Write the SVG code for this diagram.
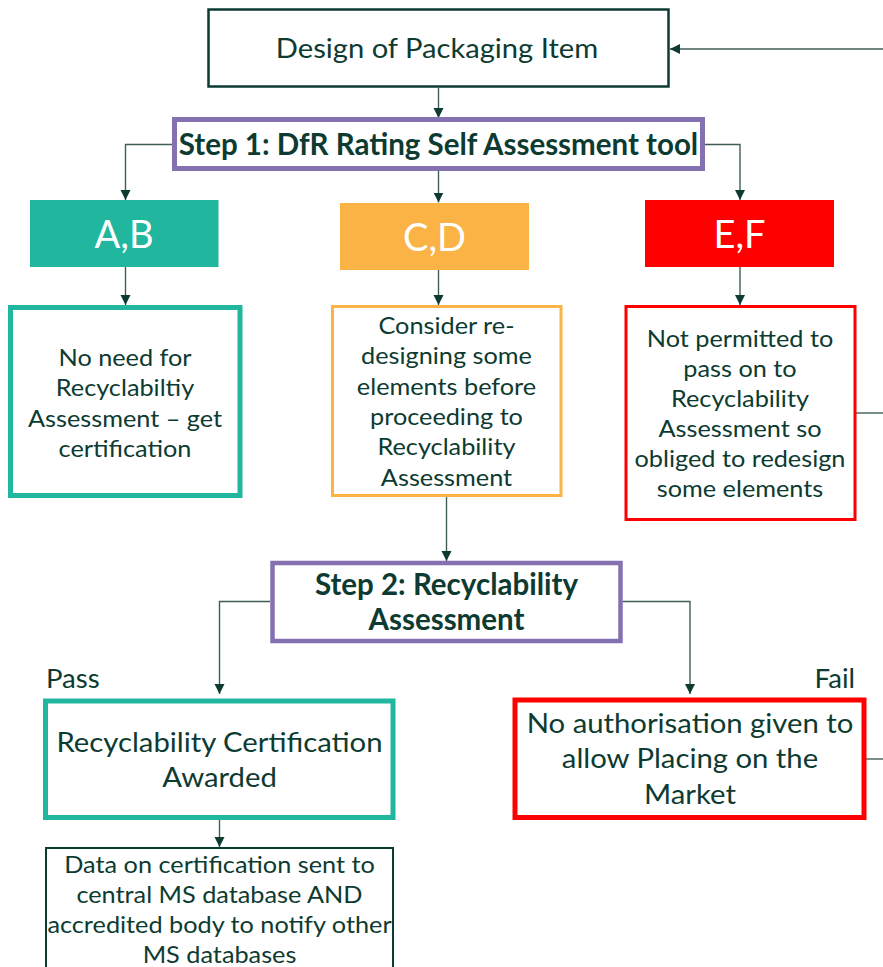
<svg xmlns="http://www.w3.org/2000/svg" width="883" height="967" viewBox="0 0 883 967">
<defs>
<style>
text{font-family:Lato,"Liberation Sans",sans-serif;fill:#0d3b31;text-anchor:middle}
.t{font-size:23.4px}
.l{font-size:27.5px}
.b{font-weight:bold;font-size:29.5px}
.big{font-size:38px;fill:#ffffff}
.c{fill:none;stroke:#3f5e57;stroke-width:1.4}
</style>
<marker id="ah" viewBox="0 0 10 10" refX="10" refY="5" markerWidth="10" markerHeight="12" markerUnits="userSpaceOnUse" orient="auto">
<path d="M0,0 L10,5 L0,10 z" fill="#0d3b31"/>
</marker>
</defs>
<rect width="883" height="967" fill="#ffffff"/>
<g id="connectors">
<path class="c" d="M883,49 L670,49" marker-end="url(#ah)"/>
<path class="c" d="M438.5,88 L438.5,118" marker-end="url(#ah)"/>
<path class="c" d="M172,144.5 L125.5,144.5 L125.5,200" marker-end="url(#ah)"/>
<path class="c" d="M438.5,171 L438.5,202.5" marker-end="url(#ah)"/>
<path class="c" d="M705,144.5 L740,144.5 L740,200" marker-end="url(#ah)"/>
<path class="c" d="M125.5,267 L125.5,305" marker-end="url(#ah)"/>
<path class="c" d="M438.5,270 L438.5,305" marker-end="url(#ah)"/>
<path class="c" d="M740,267 L740,305" marker-end="url(#ah)"/>
<path class="c" d="M856,413 L883,413"/>
<path class="c" d="M446.5,497 L446.5,561" marker-end="url(#ah)"/>
<path class="c" d="M270,601.5 L219.5,601.5 L219.5,694" marker-end="url(#ah)"/>
<path class="c" d="M622.5,601.5 L690,601.5 L690,694" marker-end="url(#ah)"/>
<path class="c" d="M866,759 L883,759"/>
<path class="c" d="M219.5,820 L219.5,847" marker-end="url(#ah)"/>
</g>
<g id="design">
<rect x="208.5" y="9.5" width="460" height="77" fill="#fff" stroke="#0d3b31" stroke-width="2.5"/>
<g transform="translate(437 0) scale(1.1 1)"><text x="0" y="58.5" style="font-size:26.5px">Design of Packaging Item</text></g>
</g>
<g id="step1">
<rect x="174.5" y="119.5" width="528" height="49" fill="#fff" stroke="#8571b1" stroke-width="5"/>
<text class="b" x="438.5" y="154.5">Step 1: DfR Rating Self Assessment tool</text>
</g>
<g id="ab">
<rect x="30" y="200" width="188.5" height="67" fill="#21b79f"/>
<text class="big" x="124" y="248">A,B</text>
</g>
<g id="cd">
<rect x="340" y="203" width="189" height="67" fill="#fbb346"/>
<text class="big" x="434.5" y="251">C,D</text>
</g>
<g id="ef">
<rect x="645" y="200" width="189" height="67" fill="#ff0000"/>
<text class="big" x="739.5" y="248">E,F</text>
</g>
<g id="noneed">
<rect x="10.5" y="307.5" width="229.5" height="188" fill="#fff" stroke="#21b79f" stroke-width="5"/>
<g transform="translate(125 0) scale(1.08 1)">
<text class="t" x="0" y="366.5">No need for</text>
<text class="t" x="0" y="396.5">Recyclabiltiy</text>
<text class="t" x="0" y="427">Assessment – get</text>
<text class="t" x="0" y="457">certification</text>
</g>
</g>
<g id="consider">
<rect x="332.5" y="306.5" width="228.5" height="189" fill="#fff" stroke="#fbb346" stroke-width="3"/>
<g transform="translate(446.5 0) scale(1.08 1)">
<text class="t" x="0" y="334.5">Consider re-</text>
<text class="t" x="0" y="364.5">designing some</text>
<text class="t" x="0" y="395">elements before</text>
<text class="t" x="0" y="425.5">proceeding to</text>
<text class="t" x="0" y="455.5">Recyclability</text>
<text class="t" x="0" y="486">Assessment</text>
</g>
</g>
<g id="notpermitted">
<rect x="626" y="306.5" width="229" height="213" fill="#fff" stroke="#ff0000" stroke-width="3"/>
<g transform="translate(740 0) scale(1.08 1)">
<text class="t" x="0" y="347">Not permitted to</text>
<text class="t" x="0" y="377">pass on to</text>
<text class="t" x="0" y="407">Recyclability</text>
<text class="t" x="0" y="437.5">Assessment so</text>
<text class="t" x="0" y="467.5">obliged to redesign</text>
<text class="t" x="0" y="497.5">some elements</text>
</g>
</g>
<g id="step2">
<rect x="272.5" y="563" width="348" height="78" fill="#fff" stroke="#8571b1" stroke-width="4.5"/>
<text class="b" x="446.5" y="594.5">Step 2: Recyclability</text>
<text class="b" x="446.5" y="630">Assessment</text>
</g>
<g id="labels">
<g transform="translate(46 0) scale(1.04 1)"><text x="0" y="688.5" style="font-size:26.5px;text-anchor:start">Pass</text></g>
<g transform="translate(855 0) scale(1.04 1)"><text x="0" y="688.5" style="font-size:26.5px;text-anchor:end">Fail</text></g>
</g>
<g id="certified">
<rect x="45.5" y="701" width="347.5" height="116.5" fill="#fff" stroke="#21b79f" stroke-width="5"/>
<g transform="translate(219.5 0) scale(1.065 1)">
<text class="l" x="0" y="752">Recyclability Certification</text>
<text class="l" x="0" y="787">Awarded</text>
</g>
</g>
<g id="noauth">
<rect x="515" y="700" width="349" height="117.5" fill="#fff" stroke="#ff0000" stroke-width="5"/>
<g transform="translate(690 0) scale(1.065 1)">
<text class="l" x="0" y="733.5">No authorisation given to</text>
<text class="l" x="0" y="768.5">allow Placing on the</text>
<text class="l" x="0" y="804">Market</text>
</g>
</g>
<g id="data">
<rect x="46" y="848" width="347" height="140" fill="#fff" stroke="#0d3b31" stroke-width="2"/>
<g transform="translate(219.5 0) scale(1.08 1)">
<text class="t" x="0" y="873.5">Data on certification sent to</text>
<text class="t" x="0" y="903.5">central MS database AND</text>
<text class="t" x="0" y="933.5">accredited body to notify other</text>
<text class="t" x="0" y="963.5">MS databases</text>
</g>
</g>
</svg>
